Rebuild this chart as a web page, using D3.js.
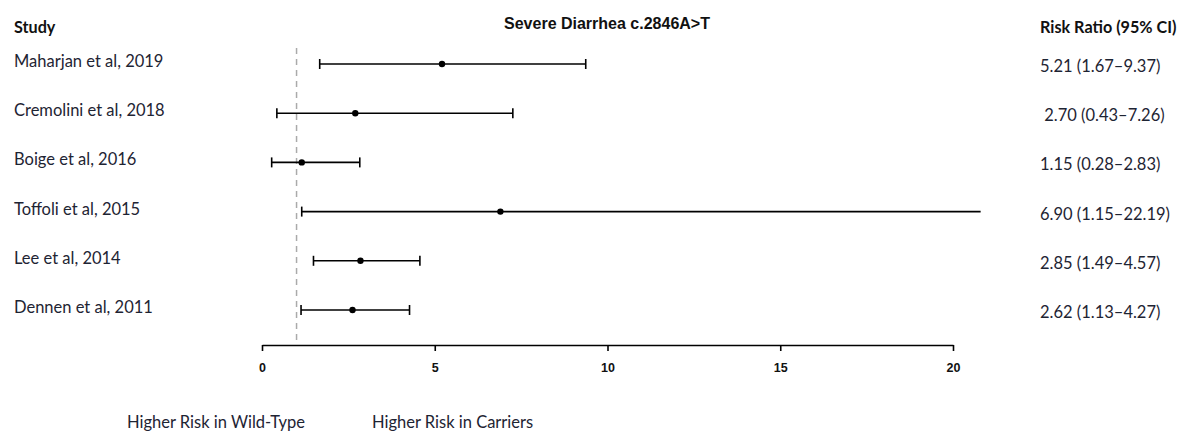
<!DOCTYPE html>
<html>
<head>
<meta charset="utf-8">
<script src="https://cdn.jsdelivr.net/npm/d3@7"></script>
<style>
  html, body { margin: 0; padding: 0; background: #fff; }
  svg { display: block; }
</style>
</head>
<body>
<svg id="chart" width="1181" height="433"></svg>
<script>
// Forest plot data: one entry per study
const studies = ["Maharjan et al, 2019", "Cremolini et al, 2018", "Boige et al, 2016",
                 "Toffoli et al, 2015", "Lee et al, 2014", "Dennen et al, 2011"];
const riskRatio = [5.21, 2.70, 1.15, 6.90, 2.85, 2.62];
const ciLower   = [1.67, 0.43, 0.28, 1.15, 1.49, 1.13];
const ciUpper   = [9.37, 7.26, 2.83, 22.19, 4.57, 4.27];
const ciLabels  = ["5.21 (1.67\u20139.37)", " 2.70 (0.43\u20137.26)", "1.15 (0.28\u20132.83)",
                   "6.90 (1.15\u201322.19)", "2.85 (1.49\u20134.57)", "2.62 (1.13\u20134.27)"];
const xTicks = [0, 5, 10, 15, 20];
const nullValue = 1;

const svg = d3.select("#chart");
const textFont = "Lato, 'Open Sans', sans-serif";
const textColor = "#1e2433";
const bodySize = 16.5;

// scales
const x = d3.scaleLinear().domain([0, 20]).range([262, 953]);
const xMaxShown = 20.8; // intervals are cut at the right edge of the plotting area
const y = d3.scalePoint().domain(studies).range([64, 310]);

// headers
svg.append("text").attr("x", 14).attr("y", 33)
  .attr("font-family", textFont).attr("font-weight", 700).attr("font-size", 16.2)
  .attr("fill", "#111").text("Study");

svg.append("text").attr("x", 1040).attr("y", 33)
  .attr("font-family", textFont).attr("font-weight", 700).attr("font-size", 16.2)
  .attr("fill", "#111").text("Risk Ratio (95% CI)");

svg.append("text").attr("x", 607).attr("y", 29).attr("text-anchor", "middle")
  .attr("font-family", "'Liberation Sans', Arial, sans-serif").attr("font-weight", 700)
  .attr("font-size", 16).attr("fill", "#111").text("Severe Diarrhea c.2846A>T");

// reference line at RR = 1
svg.append("line")
  .attr("x1", x(nullValue)).attr("x2", x(nullValue))
  .attr("y1", 48).attr("y2", 345)
  .attr("stroke", "#aaa").attr("stroke-width", 1.5).attr("stroke-dasharray", "6,5");

// study labels
svg.append("g").selectAll("text").data(studies).join("text")
  .attr("x", 14).attr("y", d => y(d) + 3)
  .attr("font-family", textFont).attr("font-size", bodySize).attr("fill", textColor)
  .text(d => d);

// confidence intervals
const rows = studies.map((s, i) => ({ s, rr: riskRatio[i], lo: ciLower[i], hi: ciUpper[i], lab: ciLabels[i] }));
const g = svg.append("g");
const capH = 5;

g.selectAll("line.ci").data(rows).join("line").attr("class", "ci")
  .attr("x1", d => x(d.lo)).attr("x2", d => x(Math.min(d.hi, xMaxShown)))
  .attr("y1", d => y(d.s)).attr("y2", d => y(d.s))
  .attr("stroke", "#000").attr("stroke-width", 1.6);

g.selectAll("line.capL").data(rows).join("line").attr("class", "capL")
  .attr("x1", d => x(d.lo)).attr("x2", d => x(d.lo))
  .attr("y1", d => y(d.s) - capH).attr("y2", d => y(d.s) + capH)
  .attr("stroke", "#000").attr("stroke-width", 1.6);

g.selectAll("line.capR").data(rows.filter(d => d.hi <= xMaxShown)).join("line").attr("class", "capR")
  .attr("x1", d => x(d.hi)).attr("x2", d => x(d.hi))
  .attr("y1", d => y(d.s) - capH).attr("y2", d => y(d.s) + capH)
  .attr("stroke", "#000").attr("stroke-width", 1.6);

g.selectAll("circle").data(rows).join("circle")
  .attr("cx", d => x(d.rr)).attr("cy", d => y(d.s)).attr("r", 3.2)
  .attr("fill", "#000");

// risk ratio labels
svg.append("g").selectAll("text").data(rows).join("text")
  .attr("x", 1040).attr("y", d => y(d.s) + 8)
  .attr("xml:space", "preserve")
  .attr("font-family", textFont).attr("font-size", bodySize).attr("fill", textColor)
  .text(d => d.lab);

// x axis
const axis = svg.append("g").attr("transform", "translate(0,345)")
  .call(d3.axisBottom(x).tickValues(xTicks).tickSize(6).tickSizeOuter(0).tickPadding(12));
axis.select(".domain").attr("stroke", "#000").attr("stroke-width", 1.6);
axis.selectAll(".tick line").attr("stroke", "#000").attr("stroke-width", 1.6);
axis.selectAll(".tick text")
  .attr("font-family", "'Liberation Sans', Arial, sans-serif")
  .attr("font-weight", 700).attr("font-size", 12.5).attr("fill", "#111");

// direction labels
svg.append("text").attr("x", 127).attr("y", 428)
  .attr("font-family", textFont).attr("font-size", bodySize).attr("fill", textColor)
  .text("Higher Risk in Wild-Type");
svg.append("text").attr("x", 372).attr("y", 428)
  .attr("font-family", textFont).attr("font-size", bodySize).attr("fill", textColor)
  .text("Higher Risk in Carriers");
</script>
</body>
</html>
